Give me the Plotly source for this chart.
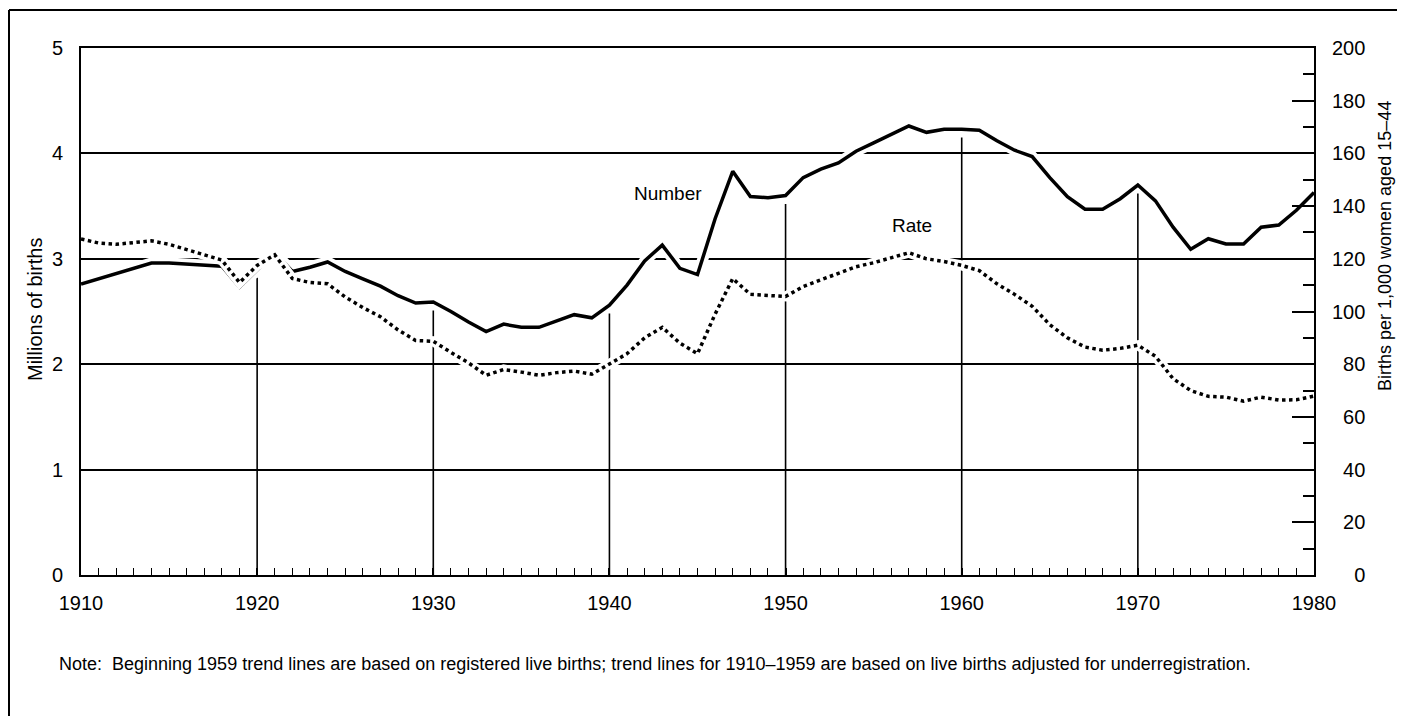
import plotly.graph_objects as go

# ---- data ----
years = list(range(1910, 1981))

births_millions = [
    2.76, 2.81, 2.86, 2.91, 2.96, 2.96, 2.95, 2.94, 2.93, 2.73,   # 1910-1919
    2.90, 3.06, 2.88, 2.92, 2.97, 2.88, 2.81, 2.74, 2.65, 2.58,   # 1920-1929
    2.59, 2.50, 2.40, 2.31, 2.38, 2.35, 2.35, 2.41, 2.47, 2.44,   # 1930-1939
    2.56, 2.75, 2.98, 3.13, 2.91, 2.85, 3.38, 3.83, 3.59, 3.58,   # 1940-1949
    3.60, 3.77, 3.85, 3.91, 4.02, 4.10, 4.18, 4.26, 4.20, 4.23,   # 1950-1959
    4.23, 4.22, 4.12, 4.03, 3.97, 3.77, 3.59, 3.47, 3.47, 3.57,   # 1960-1969
    3.70, 3.55, 3.30, 3.09, 3.19, 3.14, 3.14, 3.30, 3.32, 3.46,   # 1970-1979
    3.63,                                                         # 1980
]

rate_per_1000 = [
    127.5, 126.0, 125.5, 126.0, 126.8, 125.5, 123.5, 121.5, 119.5, 111.0,
    117.5, 121.5, 112.5, 111.0, 110.5, 105.5, 101.5, 98.0, 93.0, 89.0,
    88.7, 84.5, 80.5, 75.8, 78.0, 77.0, 75.8, 76.8, 77.4, 76.2,
    80.0, 84.0, 90.0, 94.0, 88.0, 84.0, 99.0, 112.5, 106.5, 106.0,
    105.7, 109.5, 112.0, 114.5, 117.0, 118.5, 120.5, 122.3, 120.0, 119.0,
    117.5, 115.5, 110.5, 106.5, 102.0, 95.0, 90.0, 86.5, 85.3, 86.0,
    87.2, 83.0, 74.5, 70.0, 67.8, 67.5, 66.0, 67.5, 66.4, 66.5,
    67.9,
]

decade_ticks = [1910, 1920, 1930, 1940, 1950, 1960, 1970, 1980]
left_ticks = [0, 1, 2, 3, 4, 5]
right_ticks = [0, 20, 40, 60, 80, 100, 120, 140, 160, 180, 200]

note_text = ("Note:  Beginning 1959 trend lines are based on registered live births; "
             "trend lines for 1910\u20131959 are based on live births adjusted for underregistration.")

FONT = "Liberation Sans, Arial, Helvetica, sans-serif"

# page has an 8px body margin: figure is sized so it fills the 1405x716 window
OFF = 8
W, H = 1405 - OFF, 716 - OFF
plot_left, plot_right, plot_top, plot_bottom = 81, 1314, 48, 575   # window pixels
ml = plot_left - OFF
mt = plot_top - OFF
mr = W - (plot_right - OFF)
mb = H - (plot_bottom - OFF)
pw, ph = W - ml - mr, H - mt - mb


def px(xp):
    """window pixel x -> paper fraction"""
    return (xp - plot_left) / pw


def py(yp):
    """window pixel y -> paper fraction"""
    return (plot_bottom - yp) / ph


fig = go.Figure()

# white halos so that grid lines break where the curves cross them
fig.add_trace(go.Scatter(x=years, y=rate_per_1000, yaxis="y2", mode="lines",
                         line=dict(color="white", width=10), hoverinfo="skip", showlegend=False))
fig.add_trace(go.Scatter(x=years, y=births_millions, yaxis="y", mode="lines",
                         line=dict(color="white", width=11), hoverinfo="skip", showlegend=False))

# rate (dotted) and number (solid)
fig.add_trace(go.Scatter(x=years, y=rate_per_1000, yaxis="y2", mode="lines", name="Rate",
                         line=dict(color="black", width=3.5, dash="dot"), showlegend=False))
fig.add_trace(go.Scatter(x=years, y=births_millions, yaxis="y", mode="lines", name="Number",
                         line=dict(color="black", width=3.5), showlegend=False))

# partial vertical grid lines, stopping just beneath the Number curve
shapes = []
for d in decade_ticks[1:-1]:
    v = births_millions[years.index(d)]
    shapes.append(dict(type="line", xref="x", yref="y", x0=d, x1=d, y0=0, y1=v - 0.08,
                       line=dict(color="black", width=1.6), layer="below"))

# outer frame (left and top edges of the figure box)
shapes.append(dict(type="line", xref="paper", yref="paper", x0=px(9), x1=px(9), y0=py(716), y1=py(10),
                   line=dict(color="black", width=2)))
shapes.append(dict(type="line", xref="paper", yref="paper", x0=px(9), x1=px(1405), y0=py(10), y1=py(10),
                   line=dict(color="black", width=2)))

annotations = [
    dict(text="Number", x=1943.3, y=3.615, xref="x", yref="y", showarrow=False,
         xanchor="center", yanchor="middle", font=dict(family=FONT, size=19, color="black")),
    dict(text="Rate", x=1957.2, y=3.32, xref="x", yref="y", showarrow=False,
         xanchor="center", yanchor="middle", font=dict(family=FONT, size=19, color="black")),
    dict(text="Millions of births", x=px(35), y=py(310), xref="paper", yref="paper",
         xanchor="center", yanchor="middle",
         textangle=-90, showarrow=False, font=dict(family=FONT, size=20, color="black")),
    dict(text="Births per 1,000 women aged 15\u201344", x=px(1385), y=py(246), xref="paper", yref="paper",
         xanchor="center", yanchor="middle",
         textangle=-90, showarrow=False, font=dict(family=FONT, size=18, color="black")),
    dict(text=note_text, x=px(57), y=py(664), xref="paper", yref="paper", xanchor="left",
         yanchor="middle", showarrow=False, font=dict(family=FONT, size=18, color="black")),
]

right_text = [("\u2007" * (3 - len(str(v)))) + str(v) for v in right_ticks]

fig.update_layout(
    width=W, height=H, autosize=False,
    margin=dict(l=ml, r=mr, t=mt, b=mb, pad=0),
    paper_bgcolor="white", plot_bgcolor="white",
    font=dict(family=FONT, size=20, color="black"),
    shapes=shapes, annotations=annotations,
    xaxis=dict(range=[1910, 1980], tickmode="array", tickvals=decade_ticks,
               ticks="inside", ticklen=7, tickwidth=1.5, tickcolor="black",
               minor=dict(tick0=1910, dtick=1, ticks="inside", ticklen=7, tickwidth=1.3, tickcolor="black"),
               showline=True, linecolor="black", linewidth=2, mirror=True,
               showgrid=False, zeroline=False, ticklabelstandoff=9,
               tickfont=dict(family=FONT, size=20, color="black")),
    yaxis=dict(range=[0, 5], tickmode="array", tickvals=left_ticks, ticks="",
               showgrid=True, gridcolor="black", gridwidth=1.6,
               showline=True, linecolor="black", linewidth=2, zeroline=False,
               ticklabelstandoff=12, tickfont=dict(family=FONT, size=20, color="black")),
    yaxis2=dict(range=[0, 200], overlaying="y", side="right", tickmode="array",
                tickvals=right_ticks, ticktext=right_text,
                ticks="inside", ticklen=22, tickwidth=1.6, tickcolor="black",
                minor=dict(tick0=0, dtick=10, ticks="inside", ticklen=11, tickwidth=1.6, tickcolor="black"),
                showgrid=False, zeroline=False,
                showline=True, linecolor="black", linewidth=2,
                ticklabelstandoff=12, tickfont=dict(family=FONT, size=20, color="black")),
)

fig.write_html("out.html")
